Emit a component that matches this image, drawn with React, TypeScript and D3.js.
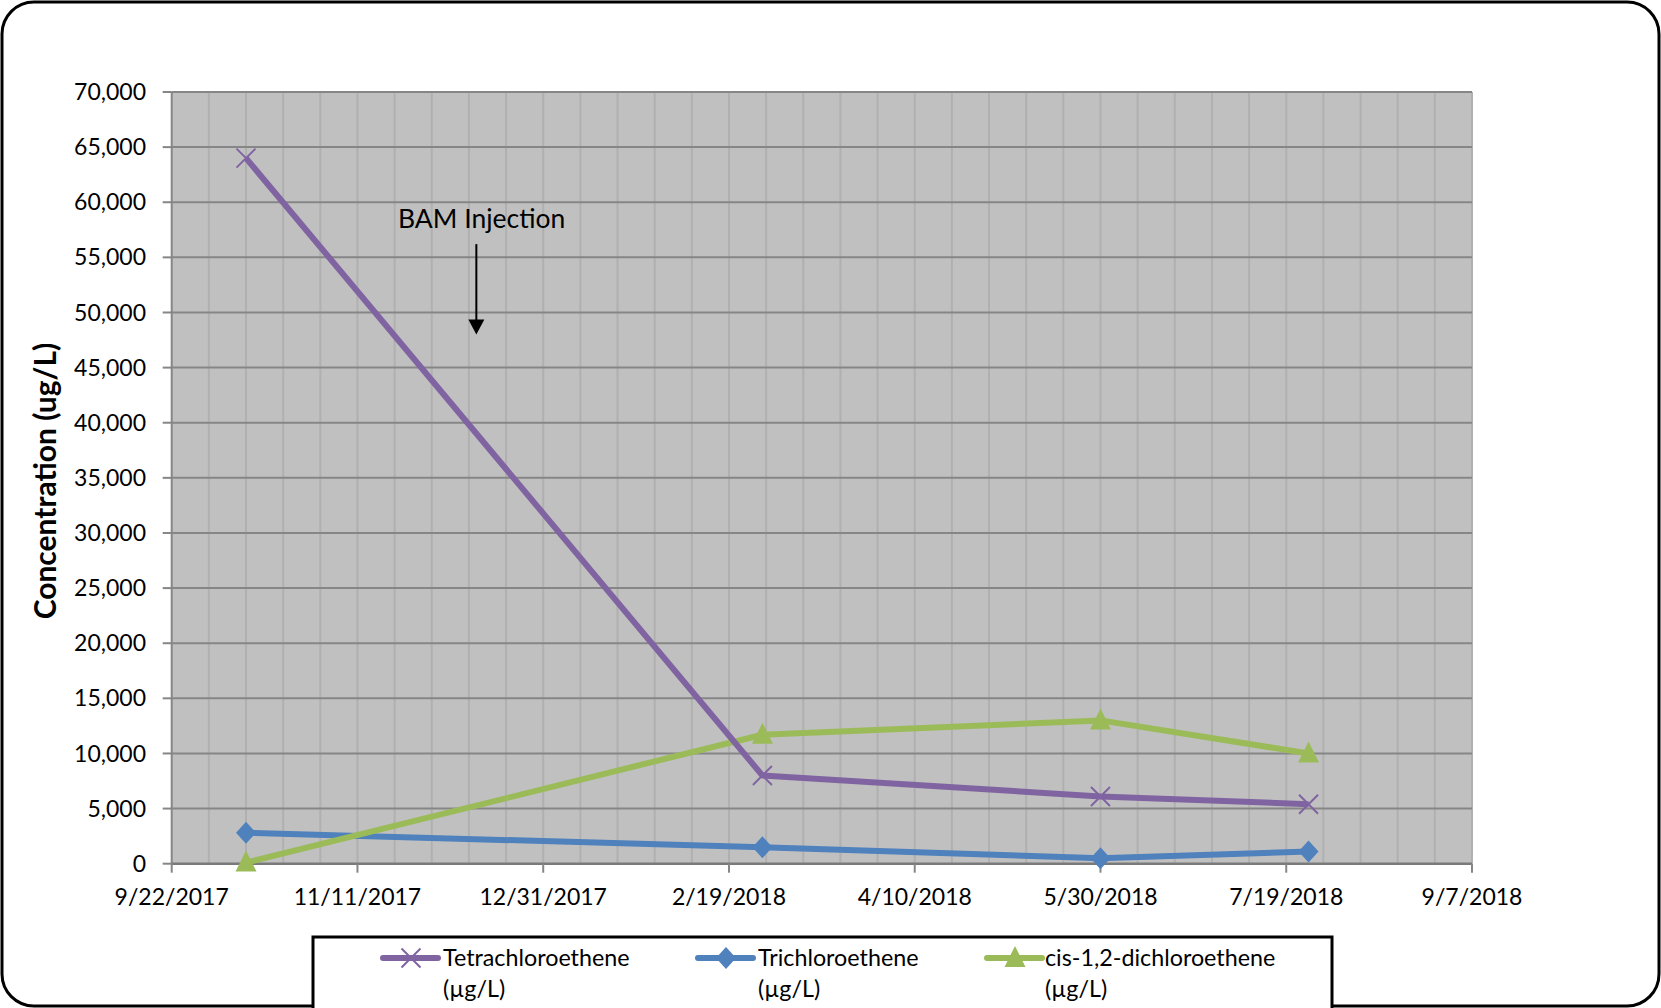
import React from 'react';
import * as d3 from 'd3';

// Sampling dates and measured concentrations (µg/L)
const sampleDates = ['10/12/2017', '2/28/2018', '5/30/2018', '7/25/2018'];
const pceValues = [64000, 8000, 6100, 5400];
const tceValues = [2800, 1500, 500, 1100];
const dceValues = [100, 11700, 13000, 10000];

const seriesNames = ['Tetrachloroethene', 'Trichloroethene', 'cis-1,2-dichloroethene'];
const seriesUnit = '(µg/L)';

const xTickLabels = ['9/22/2017', '11/11/2017', '12/31/2017', '2/19/2018', '4/10/2018', '5/30/2018', '7/19/2018', '9/7/2018'];
const yTickValues = [0, 5000, 10000, 15000, 20000, 25000, 30000, 35000, 40000, 45000, 50000, 55000, 60000, 65000, 70000];

const yTitle = 'Concentration (ug/L)';
const annotationText = 'BAM Injection';
const annotationDate = '12/13/2017';
const annotationTop = 56200;
const annotationBottom = 48000;

const W = 1661;
const H = 1008;
const FONT = 'Lato, "Open Sans", sans-serif';

const parseDate = (s: string) => {
  const [m, d, y] = s.split('/').map(Number);
  return new Date(Date.UTC(y, m - 1, d));
};

const plot = { left: 171.7, right: 1472, top: 92, bottom: 863.7 };

const COLORS = { pce: '#8064A2', tce: '#4F81BD', dce: '#9BBB59' };
const LINE_W = 6;

export default function App() {
  const xDomain = [parseDate(xTickLabels[0]), parseDate(xTickLabels[xTickLabels.length - 1])];
  const x = d3.scaleUtc().domain(xDomain).range([plot.left, plot.right]);
  const y = d3.scaleLinear().domain([0, 70000]).range([plot.bottom, plot.top]);

  // minor vertical gridlines every 10 days
  const minorDays = d3.utcDay.range(xDomain[0], d3.utcDay.offset(xDomain[1], 1), 10).slice(1);

  const dates = sampleDates.map(parseDate);
  const mkLine = (vals: number[]) =>
    d3.line<number>().x((_, i) => x(dates[i])).y((v) => y(v))(vals) || '';

  const xMarker = (cx: number, cy: number, key: string) => (
    <path key={key} d={`M${cx - 9.5},${cy - 9.5}L${cx + 9.5},${cy + 9.5}M${cx - 9.5},${cy + 9.5}L${cx + 9.5},${cy - 9.5}`}
      stroke={COLORS.pce} strokeWidth={2} fill="none" />
  );
  const diamond = (cx: number, cy: number, key: string) => (
    <path key={key} d={`M${cx},${cy - 11}L${cx + 10},${cy}L${cx},${cy + 11}L${cx - 10},${cy}Z`} fill={COLORS.tce} />
  );
  const triangle = (cx: number, cy: number, key: string) => (
    <path key={key} d={`M${cx},${cy - 12}L${cx + 10.5},${cy + 9}L${cx - 10.5},${cy + 9}Z`} fill={COLORS.dce} />
  );

  const ax = x(parseDate(annotationDate));

  const legendItems = [
    { name: seriesNames[0], color: COLORS.pce, lx: 383, tx: 443, marker: xMarker },
    { name: seriesNames[1], color: COLORS.tce, lx: 698, tx: 758, marker: diamond },
    { name: seriesNames[2], color: COLORS.dce, lx: 987, tx: 1045, marker: triangle },
  ];

  return (
    <svg width={W} height={H} style={{ position: 'absolute', left: 0, top: 0 }} fontFamily={FONT}>
      <rect x={0} y={0} width={W} height={H} fill="#fff" />
      <rect x={2} y={2} width={1657} height={1004} rx={32} ry={32} fill="#fff" stroke="#000" strokeWidth={3} />

      {/* plot area */}
      <rect x={plot.left} y={plot.top} width={plot.right - plot.left} height={plot.bottom - plot.top} fill="#C0C0C0" />
      {minorDays.map((d, i) => (
        <line key={'v' + i} x1={x(d)} x2={x(d)} y1={plot.top} y2={plot.bottom} stroke="#B0B0B0" strokeWidth={2} />
      ))}
      {yTickValues.filter((v) => v > 0).map((v) => (
        <line key={'h' + v} x1={plot.left} x2={plot.right} y1={y(v)} y2={y(v)} stroke="#868686" strokeWidth={2} />
      ))}

      {/* axes */}
      <line x1={plot.left} x2={plot.left} y1={plot.top} y2={plot.bottom} stroke="#868686" strokeWidth={2} />
      <line x1={plot.left} x2={plot.right} y1={plot.bottom} y2={plot.bottom} stroke="#7a7a7a" strokeWidth={2.5} />
      {yTickValues.map((v) => (
        <g key={'yt' + v}>
          <line x1={plot.left - 9} x2={plot.left} y1={y(v)} y2={y(v)} stroke="#868686" strokeWidth={2} />
          <text x={146} y={y(v)} dy="0.35em" textAnchor="end" fontSize={23} fill="#000">
            {d3.format(',')(v)}
          </text>
        </g>
      ))}
      {xTickLabels.map((s) => {
        const px = x(parseDate(s));
        return (
          <g key={'xt' + s}>
            <line x1={px} x2={px} y1={plot.bottom} y2={plot.bottom + 9} stroke="#868686" strokeWidth={2} />
            <text x={px} y={905} textAnchor="middle" fontSize={23} fill="#000">{s}</text>
          </g>
        );
      })}

      <text transform={`translate(56,481) rotate(-90)`} textAnchor="middle" fontSize={30} fontWeight="bold" fill="#000">
        {yTitle}
      </text>

      {/* series */}
      <path d={mkLine(tceValues)} fill="none" stroke={COLORS.tce} strokeWidth={LINE_W} strokeLinejoin="round" />
      <path d={mkLine(dceValues)} fill="none" stroke={COLORS.dce} strokeWidth={LINE_W} strokeLinejoin="round" />
      <path d={mkLine(pceValues)} fill="none" stroke={COLORS.pce} strokeWidth={LINE_W} strokeLinejoin="round" />
      {tceValues.map((v, i) => diamond(x(dates[i]), y(v), 'tm' + i))}
      {dceValues.map((v, i) => triangle(x(dates[i]), y(v), 'dm' + i))}
      {pceValues.map((v, i) => xMarker(x(dates[i]), y(v), 'pm' + i))}

      {/* annotation */}
      <text x={398} y={228} fontSize={26.5} fill="#000">{annotationText}</text>
      <line x1={ax} x2={ax} y1={y(annotationTop)} y2={y(annotationBottom) - 14} stroke="#000" strokeWidth={2} />
      <path d={`M${ax - 8},${y(annotationBottom) - 15}L${ax + 8},${y(annotationBottom) - 15}L${ax},${y(annotationBottom)}Z`} fill="#000" />

      {/* legend */}
      <rect x={313} y={937} width={1019} height={90} fill="#fff" stroke="#000" strokeWidth={3} />
      {legendItems.map((it) => (
        <g key={it.name}>
          <line x1={it.lx} x2={it.lx + 55} y1={958} y2={958} stroke={it.color} strokeWidth={LINE_W} strokeLinecap="round" />
          {it.marker(it.lx + 28, 958, 'lm' + it.name)}
          <text x={it.tx} y={966} fontSize={23.3} fill="#000">{it.name}</text>
          <text x={it.tx} y={997} fontSize={23.3} fill="#000">{seriesUnit}</text>
        </g>
      ))}
    </svg>
  );
}
